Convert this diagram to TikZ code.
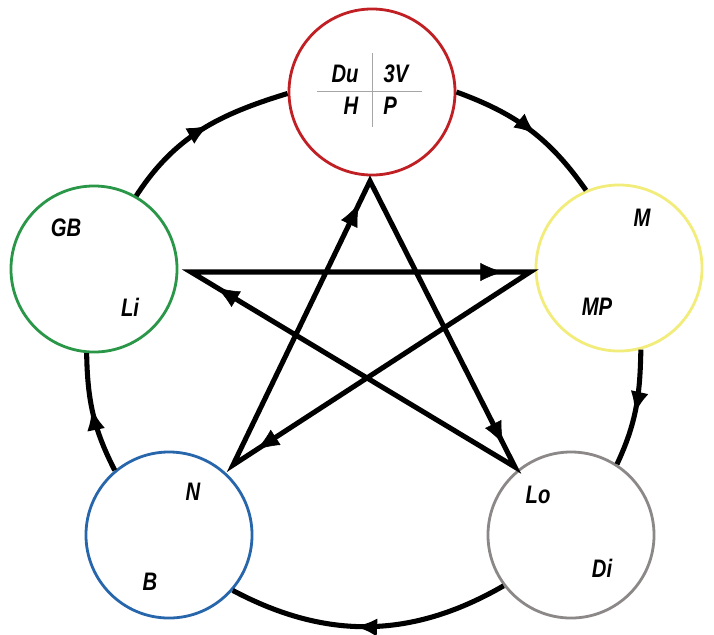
\documentclass[tikz,border=0pt]{standalone}
\usepackage{fontspec}
\setmainfont{Liberation Sans}[FakeStretch=0.8]
\usetikzlibrary{arrows.meta,decorations.markings}
\definecolor{ringred}{RGB}{192,32,36}
\definecolor{ringyellow}{RGB}{242,236,122}
\definecolor{ringgray}{RGB}{140,136,136}
\definecolor{ringblue}{RGB}{40,102,172}
\definecolor{ringgreen}{RGB}{42,150,72}
\begin{document}
\begin{tikzpicture}[x=0.025cm, y=-0.025cm, >={Latex[length=16pt,width=13pt]},
  ring/.style={circle, draw, line width=2pt, minimum size=4.15cm, inner sep=0pt},
  lbl/.style={font=\fontsize{18}{20}\selectfont\bfseries\itshape, inner sep=0pt},
  thick line/.style={line width=3.6pt},
  midarrow/.style={postaction={decorate}, decoration={markings, mark=at position 0.55 with {\arrow{>}}}},
  endarrow/.style={decoration={markings, mark=at position 0.92 with {\arrow{>}}}, decorate}]
\useasboundingbox (0,0) rectangle (714,634);

\node[ring, ringred] (red) at (372,92) {};
\node[ring, ringyellow] (yellow) at (619,268) {};
\node[ring, ringgray] (gray) at (571,535) {};
\node[ring, ringblue] (blue) at (169,535) {};
\node[ring, ringgreen] (green) at (94,269) {};

% outer cycle
\foreach \a/\b/\o/\i in {red.0/yellow.113/-20/125, yellow.-75/gray.57/-91/65, gray.217/blue.-41/-150/-28, blue.130/green.-95/117/-89, green.60/red.181/57/197}
{
    \draw[thick line, midarrow] (\a) to[out=\o, in=\i] (\b);
}

% star
\coordinate (sT) at (370,181);
\coordinate (sL) at (191,272);
\coordinate (sR) at (530,272);
\coordinate (sBL) at (233,465);
\coordinate (sBR) at (515,467);
\draw[thick line, line join=miter] (sL) -- (sR) -- (sBL) -- (sT) -- (sBR) -- cycle;
\foreach \a/\b in {sL/sR, sR/sBL, sBL/sT, sT/sBR, sBR/sL}
{
    \path[endarrow] (\a) -- (\b);
}

% top ring quadrants
\draw[gray!70, line width=0.6pt] (372,53) -- (372,127);
\draw[gray!70, line width=0.6pt] (317,91) -- (422,91);
\node[lbl] (du) at (345,74) {Du};
\node[lbl] (v3) at (396,74) {3V};
\node[lbl] (h) at (351,106) {H};
\node[lbl] (p) at (390,106) {P};

\node[lbl] (m) at (642,218) {M};
\node[lbl] (mp) at (597,307) {MP};
\node[lbl] (lo) at (538,495) {Lo};
\node[lbl] (di) at (602,568) {Di};
\node[lbl] (n) at (193,492) {N};
\node[lbl] (b) at (150,582) {B};
\node[lbl] (gb) at (66,228) {GB};
\node[lbl] (li) at (130,307) {Li};

\end{tikzpicture}
\end{document}
